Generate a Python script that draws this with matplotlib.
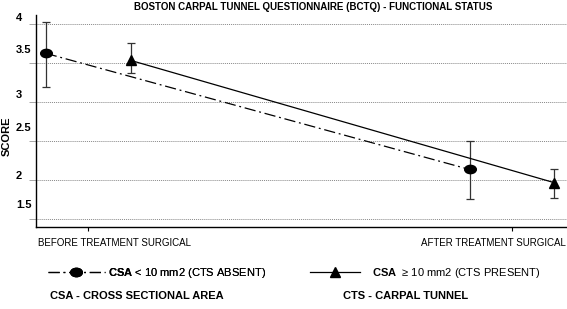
import matplotlib
matplotlib.use("Agg")
import matplotlib.pyplot as plt
from matplotlib.lines import Line2D
from matplotlib.markers import MarkerStyle
from matplotlib.transforms import Affine2D

plt.rcParams['font.family'] = ['Liberation Sans', 'DejaVu Sans']
plt.rcParams['mathtext.fontset'] = 'custom'
plt.rcParams['mathtext.rm'] = 'Liberation Sans'
plt.rcParams['mathtext.bf'] = 'Liberation Sans:bold'

# data
time_labels = ["BEFORE TREATMENT SURGICAL", "AFTER TREATMENT SURGICAL"]
x_absent = [-0.10, 0.90]
x_present = [0.10, 1.10]
score_absent = [3.63, 2.14]
err_absent_low = [0.43, 0.38]
err_absent_high = [0.40, 0.37]
score_present = [3.54, 1.97]
err_present_low = [0.16, 0.20]
err_present_high = [0.22, 0.18]
y_ticks = [4, 3.5, 3, 2.5, 2, 1.5]
# the original's tick labels sit above their gridlines by uneven amounts (points)
y_label_lift = [5, 10, 5, 9.5, 3, 10]

fig = plt.figure(figsize=(5.67, 3.09), dpi=100)
ax = fig.add_axes([0.0635, 0.265, 0.9365, 0.686])

circle = MarkerStyle('o', transform=Affine2D().scale(1.4, 1.0))
dashdot = (0, (9, 3, 1.5, 3))

ax.errorbar(x_absent, score_absent, yerr=[err_absent_low, err_absent_high],
            color='black', ecolor='#333333', elinewidth=0.9, capsize=3, capthick=0.9,
            linestyle=dashdot, linewidth=0.9, marker=circle, markersize=6)
ax.errorbar(x_present, score_present, yerr=[err_present_low, err_present_high],
            color='black', ecolor='#333333', elinewidth=0.9, capsize=3, capthick=0.9,
            linestyle='-', linewidth=0.9, marker='^', markersize=7)

ax.set_xlim(-0.123, 1.13)
ax.set_ylim(1.40, 4.12)
ax.set_xticks([0, 1])
ax.set_xticklabels([])
ax.tick_params(axis='x', length=3, width=0.8, direction='out')
ax.set_yticks(y_ticks)
ax.set_yticklabels([])
ax.tick_params(axis='y', length=5, color='#999999', width=0.6)
ax.grid(axis='y', linestyle=(0, (1, 1)), color='#888888', linewidth=0.7)
for s in ['top', 'right']:
    ax.spines[s].set_visible(False)
for s in ['left', 'bottom']:
    ax.spines[s].set_linewidth(1.0)

for val, lift in zip(y_ticks, y_label_lift):
    ax.annotate(f"{val:g}", xy=(0, val), xycoords=('axes fraction', 'data'),
                xytext=(-14.5, lift), textcoords='offset points',
                ha='left', va='center', fontsize=8, fontweight='bold')

ax.annotate(time_labels[0], xy=(0, 0), xycoords='axes fraction',
            xytext=(1.5, -11.5), textcoords='offset points',
            ha='left', va='center', fontsize=7)
ax.annotate(time_labels[1], xy=(1, 0), xycoords='axes fraction',
            xytext=(-1, -11.5), textcoords='offset points',
            ha='right', va='center', fontsize=7)

fig.text(313 / 567, 1 - 6.5 / 309, "BOSTON CARPAL TUNNEL QUESTIONNAIRE (BCTQ) - FUNCTIONAL STATUS",
         ha='center', va='center', fontsize=7, fontweight='bold')
fig.text(0.012, 0.56, "SCORE", rotation=90, ha='center', va='center',
         fontsize=8, fontweight='bold')

h1 = Line2D([], [], color='black', linestyle=dashdot, linewidth=0.9,
            marker=circle, markersize=6)
h2 = Line2D([], [], color='black', linestyle='-', linewidth=0.9,
            marker='^', markersize=7)
leg1 = fig.legend([h1], [r"$\mathbf{CSA}$ < 10 mm2 (CTS ABSENT)"],
                  loc='center left', bbox_to_anchor=(48 / 567, 1 - 273 / 309),
                  frameon=False, borderpad=0, borderaxespad=0, numpoints=1,
                  handlelength=5.1, handletextpad=0.3, fontsize=8)
fig.legend([h2], [r"$\mathbf{CSA}$  ≥ 10 mm2 (CTS PRESENT)"],
           loc='center left', bbox_to_anchor=(310 / 567, 1 - 273 / 309),
           frameon=False, borderpad=0, borderaxespad=0, numpoints=1,
           handlelength=4.5, handletextpad=1.1, fontsize=8)
fig.add_artist(leg1)

fig.text(50 / 567, 1 - 296 / 309, "CSA - CROSS SECTIONAL AREA", ha='left', va='center',
         fontsize=8, fontweight='bold')
fig.text(343 / 567, 1 - 296 / 309, "CTS - CARPAL TUNNEL", ha='left', va='center',
         fontsize=8, fontweight='bold')

fig.savefig("out.png", dpi=100, facecolor='white')
